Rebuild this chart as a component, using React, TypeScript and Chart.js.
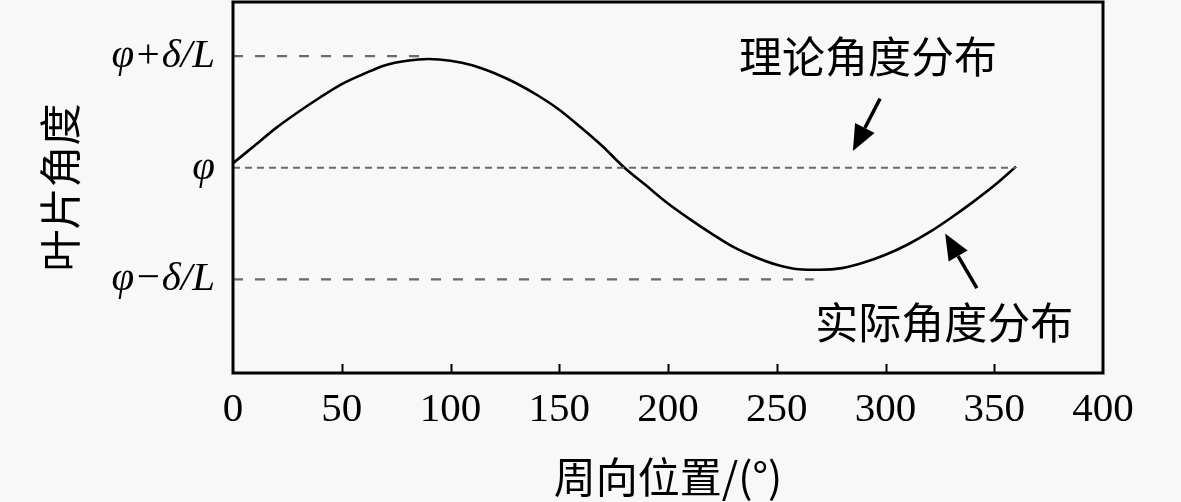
import React, { useEffect, useRef } from "react";
import { Chart, registerables } from "chart.js";

Chart.register(...registerables);

// ---- data ----
const angles = [0, 10, 20, 30, 40, 50, 60, 70, 80, 90, 100, 110, 120, 130, 140, 150, 160, 170, 180,
  190, 200, 210, 220, 230, 240, 250, 260, 270, 280, 290, 300, 310, 320, 330, 340, 350, 360];
const actualValues = [0.04, 0.2, 0.36, 0.5, 0.63, 0.75, 0.84, 0.92, 0.96, 0.975, 0.96, 0.92, 0.85,
  0.76, 0.65, 0.52, 0.36, 0.19, 0.0, -0.16, -0.32, -0.46, -0.59, -0.71, -0.8, -0.87, -0.91, -0.915,
  -0.9, -0.85, -0.78, -0.69, -0.58, -0.45, -0.31, -0.16, 0.01];

const upperLineX = [0, 87];
const upperLineY = [1, 1];
const theoryLineX = [0, 360];
const theoryLineY = [0, 0];
const lowerLineX = [0, 267];
const lowerLineY = [-1, -1];

const xTickValues = [0, 50, 100, 150, 200, 250, 300, 350, 400];
const yTickValues = [-1, 0, 1];
const yTickLabels = ["φ−δ/L", "φ", "φ+δ/L"];

const xTitle = "周向位置/(°)";
const yTitle = "叶片角度";
const theoryLabel = "理论角度分布";
const actualLabel = "实际角度分布";

const SERIF = "'Liberation Serif', 'Times New Roman', 'Noto Sans CJK SC', serif";
const CJK = "'Noto Sans CJK SC', 'Liberation Serif', serif";

const pts = (xs: number[], ys: number[]) => xs.map((x, i) => ({ x, y: ys[i] }));

function drawArrow(ctx: CanvasRenderingContext2D, x1: number, y1: number, x2: number, y2: number) {
  const ang = Math.atan2(y2 - y1, x2 - x1);
  const headLen = 26;
  const headW = 11;
  const bx = x2 - headLen * Math.cos(ang);
  const by = y2 - headLen * Math.sin(ang);
  ctx.save();
  ctx.strokeStyle = "#000";
  ctx.fillStyle = "#000";
  ctx.lineWidth = 3.5;
  ctx.beginPath();
  ctx.moveTo(x1, y1);
  ctx.lineTo(bx, by);
  ctx.stroke();
  ctx.beginPath();
  ctx.moveTo(x2, y2);
  ctx.lineTo(bx + headW * Math.sin(ang), by - headW * Math.cos(ang));
  ctx.lineTo(bx - headW * Math.sin(ang), by + headW * Math.cos(ang));
  ctx.closePath();
  ctx.fill();
  ctx.restore();
}

const framePlugin = {
  id: "frameAndNotes",
  afterDraw(chart: any) {
    const { ctx, chartArea, scales } = chart;
    const xs = scales.x;
    const ys = scales.y;
    ctx.save();
    // inward ticks on bottom axis
    ctx.strokeStyle = "#000";
    ctx.lineWidth = 2;
    xTickValues.forEach((v) => {
      if (v === xs.min || v === xs.max) return;
      const px = Math.round(xs.getPixelForValue(v)) + 0.5;
      ctx.beginPath();
      ctx.moveTo(px, chartArea.bottom);
      ctx.lineTo(px, chartArea.bottom - 9);
      ctx.stroke();
    });
    // frame
    ctx.lineWidth = 3;
    ctx.strokeRect(chartArea.left, chartArea.top, chartArea.right - chartArea.left, chartArea.bottom - chartArea.top);

    // annotations
    ctx.fillStyle = "#000";
    ctx.font = `43px ${CJK}`;
    ctx.textAlign = "center";
    ctx.textBaseline = "middle";
    ctx.fillText(theoryLabel, xs.getPixelForValue(292), ys.getPixelForValue(1.0));
    ctx.fillText(actualLabel, xs.getPixelForValue(327), ys.getPixelForValue(-1.39));
    drawArrow(ctx, xs.getPixelForValue(297.5), ys.getPixelForValue(0.62), xs.getPixelForValue(285), ys.getPixelForValue(0.15));
    drawArrow(ctx, xs.getPixelForValue(342), ys.getPixelForValue(-1.08), xs.getPixelForValue(327.4), ys.getPixelForValue(-0.59));
    ctx.restore();
  },
};

export default function App() {
  const canvasRef = useRef<HTMLCanvasElement | null>(null);

  useEffect(() => {
    if (!canvasRef.current) return;
    const refStyle = { borderColor: "#6a6a6a", borderWidth: 2.2, pointRadius: 0, fill: false };
    const chart = new Chart(canvasRef.current, {
      type: "line",
      data: {
        datasets: [
          { ...refStyle, data: pts(upperLineX, upperLineY), borderDash: [10, 12] },
          { ...refStyle, data: pts(theoryLineX, theoryLineY), borderDash: [7, 5] },
          { ...refStyle, data: pts(lowerLineX, lowerLineY), borderDash: [10, 12] },
          {
            data: pts(angles, actualValues),
            borderColor: "#000",
            borderWidth: 2.6,
            pointRadius: 0,
            cubicInterpolationMode: "monotone",
            fill: false,
          },
        ],
      },
      options: {
        animation: false,
        responsive: true,
        maintainAspectRatio: false,
        layout: { padding: { left: 0, right: 78, top: 2, bottom: 0 } },
        plugins: { legend: { display: false }, tooltip: { enabled: false } },
        scales: {
          x: {
            type: "linear",
            min: 0,
            max: 400,
            border: { display: false },
            grid: { display: false, drawTicks: false },
            afterBuildTicks: (scale: any) => {
              scale.ticks = xTickValues.map((v) => ({ value: v }));
            },
            afterFit: (scale: any) => {
              scale.height = 129;
              scale.paddingLeft = 0;
              scale.paddingRight = 0;
            },
            ticks: {
              color: "#000",
              padding: 13,
              autoSkip: false,
              maxRotation: 0,
              font: { family: SERIF, size: 41 },
              callback: (v: any) => String(v),
            },
            title: {
              display: true,
              text: xTitle,
              color: "#000",
              padding: { top: 7, bottom: 0 },
              font: { family: CJK, size: 42 },
            },
          },
          y: {
            type: "linear",
            min: -1.84,
            max: 1.486,
            border: { display: false },
            grid: { display: false, drawTicks: false },
            afterBuildTicks: (scale: any) => {
              scale.ticks = yTickValues.map((v) => ({ value: v }));
            },
            afterFit: (scale: any) => {
              scale.width = 233;
              scale.paddingTop = 0;
              scale.paddingBottom = 0;
            },
            ticks: {
              color: "#000",
              padding: 18,
              autoSkip: false,
              font: { family: SERIF, size: 41, style: "italic" },
              callback: (v: any) => {
                const i = yTickValues.indexOf(Number(v));
                return i >= 0 ? yTickLabels[i] : "";
              },
            },
            title: {
              display: true,
              text: yTitle,
              color: "#000",
              padding: { top: 35, bottom: 0 },
              font: { family: CJK, size: 42 },
            },
          },
        },
      },
      plugins: [framePlugin],
    } as any);
    return () => chart.destroy();
  }, []);

  return (
    <div style={{ position: "fixed", left: 0, top: 0, width: 1181, height: 502, background: "#f8f8f8" }}>
      <canvas ref={canvasRef} />
    </div>
  );
}
